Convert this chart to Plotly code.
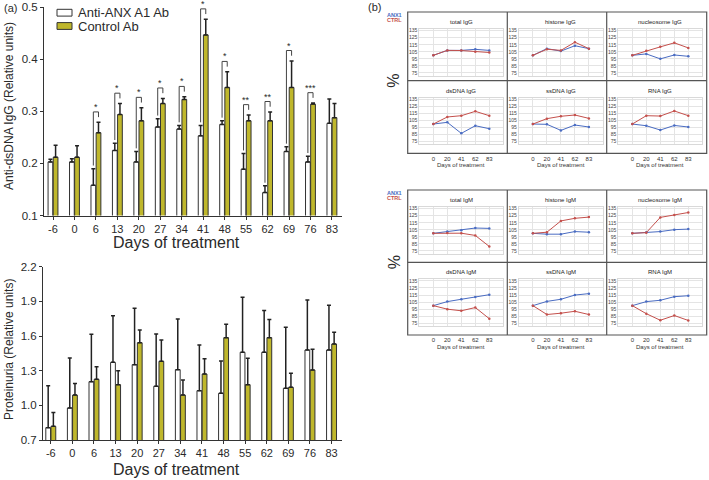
import plotly.graph_objects as go

W, H = 709, 480
FONT = "Liberation Sans, Arial, sans-serif"

# ---------------- data: panel (a) ----------------
DAYS_A = ["-6", "0", "6", "13", "20", "27", "34", "41", "48", "55", "62", "69", "76", "83"]
SERIES_A = ["Anti-ANX A1 Ab", "Control Ab"]

DSDNA_ANX = [0.203, 0.203, 0.158, 0.225, 0.203, 0.270, 0.266, 0.253, 0.275, 0.189, 0.144, 0.223, 0.203, 0.277]
DSDNA_ANX_ERR = [0.005, 0.006, 0.032, 0.014, 0.020, 0.016, 0.007, 0.020, 0.007, 0.030, 0.013, 0.009, 0.011, 0.047]
DSDNA_CTRL = [0.212, 0.212, 0.259, 0.294, 0.282, 0.315, 0.323, 0.447, 0.346, 0.282, 0.282, 0.346, 0.314, 0.288]
DSDNA_CTRL_ERR = [0.023, 0.022, 0.020, 0.021, 0.025, 0.010, 0.005, 0.030, 0.030, 0.011, 0.017, 0.051, 0.002, 0.027]
SIGNIF = ["", "", "*", "*", "*", "*", "*", "*", "*", "**", "**", "*", "***", ""]

PROT_ANX = [0.807, 0.977, 1.205, 1.372, 1.352, 1.165, 1.309, 1.127, 1.104, 1.459, 1.459, 1.147, 1.479, 1.479]
PROT_ANX_ERR = [0.363, 0.433, 0.410, 0.404, 0.488, 0.452, 0.438, 0.395, 0.280, 0.476, 0.361, 0.528, 0.433, 0.387]
PROT_CTRL = [0.818, 1.089, 1.225, 1.179, 1.542, 1.381, 1.089, 1.271, 1.586, 1.179, 1.586, 1.156, 1.306, 1.531]
PROT_CTRL_ERR = [0.121, 0.099, 0.110, 0.121, 0.110, 0.185, 0.130, 0.133, 0.115, 0.228, 0.158, 0.121, 0.179, 0.101]

DSDNA_TICKS = [0.1, 0.2, 0.3, 0.4, 0.5]
PROT_TICKS = [0.7, 1.0, 1.3, 1.6, 1.9, 2.2]

# ---------------- data: panel (b) ----------------
DAYS_B = ["0", "20", "41", "62", "83"]
PCT_TICKS = [75, 85, 95, 105, 115, 125, 135]
TITLES_IGG = ["total IgG", "histone IgG", "nucleosome IgG", "dsDNA IgG", "ssDNA IgG", "RNA IgG"]
TITLES_IGM = ["total IgM", "histone IgM", "nucleosome IgM", "dsDNA IgM", "ssDNA IgM", "RNA IgM"]

IGG_ANX1 = [
    [100, 107, 107, 108.5, 107],
    [100, 109.5, 106, 113.6, 109.5],
    [100, 102, 95, 100.5, 98.6],
    [100, 102.4, 86.8, 97.6, 93.4],
    [100, 99.6, 91, 98.6, 95.8],
    [100, 97.6, 91.5, 98, 95.8],
]
IGG_CTRL = [
    [100, 107, 106.8, 105, 104],
    [100, 108.6, 107, 118.6, 109.5],
    [100, 106.4, 112, 117.7, 110.5],
    [100, 110, 111.8, 118, 111.8],
    [100, 107.6, 111, 112.8, 108],
    [100, 111.8, 111.3, 118.5, 111.8],
]
IGM_ANX1 = [
    [100, 102.5, 104.3, 107.5, 107],
    [100, 98.8, 98.8, 102.5, 101.6],
    [100, 101.6, 102.5, 105.2, 106],
    [100, 105.7, 109, 112.2, 115.5],
    [100, 106, 109, 115, 117],
    [100, 105.7, 107.6, 112.7, 114],
]
IGM_CTRL = [
    [100, 100.6, 100.2, 97, 81.4],
    [100, 101.6, 117.6, 121.3, 123],
    [100, 101, 122.6, 125.8, 129.5],
    [100, 95, 92.7, 97.3, 81.5],
    [100, 87.4, 89.3, 92, 87.4],
    [100, 88.6, 79.3, 86, 79],
]

# ---------------- styling ----------------
WHITE = "#ffffff"
OLIVE = "#bfb72c"
EDGE = "#333333"
BLUE = "#4a6cc2"
RED = "#c4504c"
TXT = "#2a2a2a"


def px(x):
    return x / W


def py(y):
    return 1 - y / H


fig = go.Figure()
idx = list(range(len(DAYS_A)))


def add_bars(xa, ya, anx, anx_err, ctrl, ctrl_err):
    for vals, err, col, name in ((anx, anx_err, WHITE, SERIES_A[0]), (ctrl, ctrl_err, OLIVE, SERIES_A[1])):
        fig.add_trace(go.Bar(
            x=idx, y=vals, name=name, xaxis=xa, yaxis=ya, showlegend=False,
            marker=dict(color=col, line=dict(color=EDGE, width=1)),
            error_y=dict(type="data", array=err, arrayminus=[0] * len(err), symmetric=False,
                         color="#222222", thickness=1.5, width=2),
        ))


add_bars("x", "y", DSDNA_ANX, DSDNA_ANX_ERR, DSDNA_CTRL, DSDNA_CTRL_ERR)
add_bars("x2", "y2", PROT_ANX, PROT_ANX_ERR, PROT_CTRL, PROT_CTRL_ERR)

shapes = []
annotations = []

# significance brackets computed from the data
OFF = 0.12
for i, s in enumerate(SIGNIF):
    if not s:
        continue
    wtop = DSDNA_ANX[i] + DSDNA_ANX_ERR[i]
    ctop = DSDNA_CTRL[i] + DSDNA_CTRL_ERR[i]
    top = ctop + 0.02
    xl, xr = i - OFF, i + OFF
    shapes.append(dict(type="path", xref="x", yref="y",
                       path=f"M {xl},{wtop + 0.006} L {xl},{top} L {xr},{top} L {xr},{top - 0.01}",
                       line=dict(color="#444444", width=1)))
    annotations.append(dict(x=i, y=top, xref="x", yref="y", text=s, showarrow=False,
                            yanchor="bottom", yshift=-2, font=dict(size=9, color=TXT, family=FONT)))

axis_a = dict(showline=True, linecolor=EDGE, linewidth=1, ticks="outside", ticklen=3,
              tickcolor=EDGE, showgrid=False, zeroline=False, automargin=False,
              tickfont=dict(size=11, color=TXT, family=FONT))

layout = dict(
    width=W, height=H, margin=dict(l=0, r=0, t=0, b=0, autoexpand=False),
    paper_bgcolor="white", plot_bgcolor="white",
    barmode="group", bargap=0.52, bargroupgap=0.08,
    font=dict(family=FONT, color=TXT),
    showlegend=False,
    xaxis=dict(axis_a, domain=[px(44), px(342)], range=[-0.42, 13.47], anchor="y",
               tickvals=idx, ticktext=DAYS_A),
    yaxis=dict(axis_a, domain=[py(215.5), py(7.3)], range=[0.1, 0.5], anchor="x",
               tickvals=DSDNA_TICKS, tickformat=".1f", tickfont=dict(size=11.5, color=TXT, family=FONT)),
    xaxis2=dict(axis_a, domain=[px(43), px(341.7)], range=[-0.36, 13.47], anchor="y2",
                tickvals=idx, ticktext=DAYS_A),
    yaxis2=dict(axis_a, domain=[py(440), py(266.7)], range=[0.7, 2.2], anchor="x2",
                tickvals=PROT_TICKS, tickformat=".1f", tickfont=dict(size=11.5, color=TXT, family=FONT)),
)

# panel (a) texts
annotations += [
    dict(x=px(2), y=py(7.5), xref="paper", yref="paper", text="(a)", showarrow=False,
         xanchor="left", yanchor="middle", font=dict(size=11, color=TXT, family=FONT)),
    dict(x=px(176), y=py(242), xref="paper", yref="paper", text="Days of treatment", showarrow=False,
         xanchor="center", yanchor="middle", font=dict(size=16, color=TXT, family=FONT)),
    dict(x=px(176), y=py(469), xref="paper", yref="paper", text="Days of treatment", showarrow=False,
         xanchor="center", yanchor="middle", font=dict(size=16, color=TXT, family=FONT)),
    dict(x=px(9), y=py(106), xref="paper", yref="paper", text="Anti-dsDNA IgG (Relative units)",
         showarrow=False, textangle=-90, xanchor="center", yanchor="middle",
         font=dict(size=12, color=TXT, family=FONT)),
    dict(x=px(9), y=py(350), xref="paper", yref="paper", text="Proteinuria (Relative units)",
         showarrow=False, textangle=-90, xanchor="center", yanchor="middle",
         font=dict(size=12, color=TXT, family=FONT)),
]
# manual legend
for k, (name, col) in enumerate(zip(SERIES_A, (WHITE, OLIVE))):
    yc = 12.7 + 13.3 * k
    shapes.append(dict(type="rect", xref="paper", yref="paper", x0=px(57), x1=px(72),
                       y0=py(yc + 3.4), y1=py(yc - 3.4), fillcolor=col, line=dict(color=EDGE, width=1)))
    annotations.append(dict(x=px(76), y=py(yc), xref="paper", yref="paper", text=name, showarrow=False,
                            xanchor="left", yanchor="middle", font=dict(size=13, color=TXT, family=FONT)))

# ---------------- panel (b) ----------------
COL_LEFT = [407.7, 507.3, 606.7]
BLOCK_TOPS = [[12, 80.7], [190, 262.3]]
BLOCK_BOTTOM = [153.3, 335]
blocks = [(TITLES_IGG, IGG_ANX1, IGG_CTRL), (TITLES_IGM, IGM_ANX1, IGM_CTRL)]

ax_n = 3
for b, (titles, anx, ctrl) in enumerate(blocks):
    for cell in range(6):
        r, c = divmod(cell, 3)
        top = BLOCK_TOPS[b][r]
        left = COL_LEFT[c]
        xa, ya = f"x{ax_n}", f"y{ax_n}"
        bottom_row = (r == 1)
        layout[f"xaxis{ax_n}"] = dict(
            domain=[px(left + 11.6), px(left + 95.6)], range=[-1, 5], anchor=ya, automargin=False,
            tickvals=list(range(len(DAYS_B))), ticktext=DAYS_B, showticklabels=bottom_row,
            ticks="", ticklabelstandoff=8, showline=True, mirror=True, linecolor="#d9d9d9", linewidth=1,
            showgrid=True, gridcolor="#e4e4e4", gridwidth=1, zeroline=False,
            tickfont=dict(size=6, color="#333333", family=FONT))
        layout[f"yaxis{ax_n}"] = dict(
            domain=[py(top + 63.6), py(top + 17)], range=[71.3, 137.3], anchor=xa, automargin=False,
            tickvals=PCT_TICKS, ticks="", showline=True, mirror=True, linecolor="#d9d9d9", linewidth=1,
            showgrid=True, gridcolor="#e4e4e4", gridwidth=1, zeroline=False,
            tickfont=dict(size=5, color="#444444", family=FONT))
        for vals, col, nm in ((anx[cell], BLUE, "ANX1"), (ctrl[cell], RED, "CTRL")):
            fig.add_trace(go.Scatter(
                x=list(range(len(DAYS_B))), y=vals, mode="lines+markers", name=nm,
                xaxis=xa, yaxis=ya, showlegend=False, cliponaxis=False,
                line=dict(color=col, width=1), marker=dict(size=2.5, color=col)))
        annotations.append(dict(x=px(left + 53.6), y=py(top + 10), xref="paper", yref="paper",
                                text=titles[cell], showarrow=False, xanchor="center", yanchor="middle",
                                font=dict(size=6, color="#222222", family=FONT)))
        if bottom_row:
            annotations.append(dict(x=px(left + 53.6), y=py(BLOCK_BOTTOM[b] + 11.7), xref="paper",
                                    yref="paper", text="Days of treatment", showarrow=False,
                                    xanchor="center", yanchor="middle",
                                    font=dict(size=6, color="#333333", family=FONT)))
        ax_n += 1

    btop = BLOCK_TOPS[b][0]
    bbot = BLOCK_BOTTOM[b]
    bmid = BLOCK_TOPS[b][1]
    frame = dict(color="#555555", width=1.2)
    shapes.append(dict(type="rect", xref="paper", yref="paper", x0=px(407.7), x1=px(706.7),
                       y0=py(bbot), y1=py(btop), line=frame))
    shapes.append(dict(type="line", xref="paper", yref="paper", x0=px(407.7), x1=px(706.7),
                       y0=py(bmid), y1=py(bmid), line=frame))
    for xv in COL_LEFT[1:]:
        shapes.append(dict(type="line", xref="paper", yref="paper", x0=px(xv), x1=px(xv),
                           y0=py(bbot), y1=py(btop), line=frame))
    annotations += [
        dict(x=px(394), y=py(bmid), xref="paper", yref="paper", text="%", showarrow=False,
             textangle=-90, xanchor="center", yanchor="middle", font=dict(size=16, color=TXT, family=FONT)),
        dict(x=px(394.5), y=py(btop + 2.6), xref="paper", yref="paper", text="<b>ANX1</b>", showarrow=False,
             xanchor="center", yanchor="middle", font=dict(size=5.5, color=BLUE, family=FONT)),
        dict(x=px(394.5), y=py(btop + 7.8), xref="paper", yref="paper", text="<b>CTRL</b>", showarrow=False,
             xanchor="center", yanchor="middle", font=dict(size=5.5, color=RED, family=FONT)),
    ]

annotations.append(dict(x=px(366), y=py(7), xref="paper", yref="paper", text="(b)", showarrow=False,
                        xanchor="left", yanchor="middle", font=dict(size=11, color=TXT, family=FONT)))

layout["shapes"] = shapes
layout["annotations"] = annotations
fig.update_layout(layout)
fig.write_html("out.html", config={"displayModeBar": False},
               post_script="document.body.style.margin='0';document.body.style.padding='0';"
                           "document.body.style.overflow='hidden';")
